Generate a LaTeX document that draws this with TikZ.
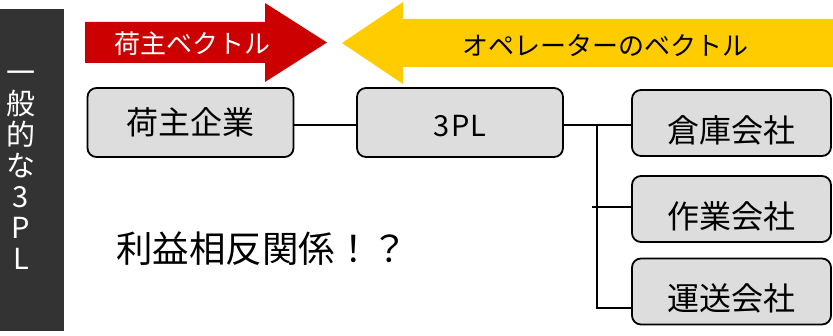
\documentclass[tikz,border=0pt]{standalone}
\usepackage{fontspec}
\setmainfont{Noto Sans CJK JP}
\definecolor{barcol}{HTML}{333333}
\definecolor{redarr}{HTML}{CC0000}
\definecolor{yelarr}{HTML}{FFCC00}
\definecolor{boxgray}{HTML}{DDDDDD}
\begin{document}
\begin{tikzpicture}[x=1pt,y=-1pt,
  box/.style={draw=black, line width=1.8pt, fill=boxgray, rounded corners=9pt,
    inner sep=0pt, font=\fontsize{32}{38}\selectfont},
  leftbox/.style={box, minimum width=206pt, minimum height=69pt},
  rightbox/.style={box, minimum width=199pt, minimum height=66pt, text height=39pt, text depth=0pt},
  conn/.style={draw=black, line width=1.6pt},
  arrowtext/.style={inner sep=0pt, font=\fontsize{26}{30}\selectfont}
]
\useasboundingbox (0,0) rectangle (833,336);

% left dark bar
\fill[barcol] (0,9) rectangle (64,331);
\node[text=white, align=center, inner sep=0pt,
  font=\fontsize{29}{31}\selectfont] (side) at (21,170)
  {一\\般\\的\\な\\3\\P\\L};

% red arrow
\fill[redarr] (85,22) -- (265,22) -- (265,3) -- (327,42.5) -- (265,82) -- (265,63) -- (85,63) -- cycle;
\node[arrowtext, text=white] (redlbl) at (192,44) {荷主ベクトル};

% yellow arrow
\fill[yelarr] (342,43) -- (403,2) -- (403,19) -- (833,19) -- (833,67) -- (403,67) -- (403,84) -- cycle;
\node[arrowtext, text=black] (yellbl) at (605,45) {オペレーターのベクトル};

% boxes
\node[leftbox] (ninushi) at (190.5,122.5) {荷主企業};
\node[leftbox, text height=29pt, text depth=0pt, font=\fontsize{29}{34}\selectfont] (tpl) at (460,122.5) {3\kern2pt PL};
\node[rightbox] (soko) at (731.5,123) {倉庫会社};
\node[rightbox] (sagyo) at (731.5,209) {作業会社};
\node[rightbox] (unso) at (731.5,291.5) {運送会社};

% connectors
\coordinate (br) at (597,125);
\draw[conn] ([yshift=-2.5pt]ninushi.east) -- ([yshift=-2.5pt]tpl.west);
\draw[conn] ([yshift=-2.5pt]tpl.east) -- ([yshift=-2pt]soko.west);
\draw[conn] (br) |- ([yshift=-16.5pt]unso.west);
\draw[conn] ([yshift=2pt]sagyo.west) -- ++(-39,0);

% conflict text
\node[inner sep=0pt, font=\fontsize{36.5}{42}\selectfont] (conflict) at (262,249) {利益相反関係！？};
\end{tikzpicture}
\end{document}
